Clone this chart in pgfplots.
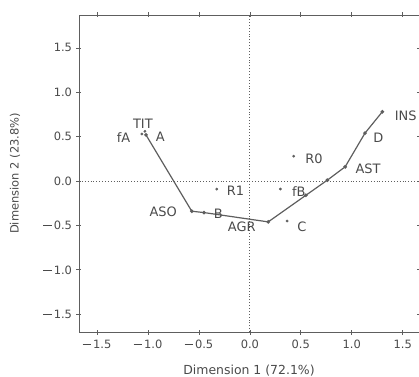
\documentclass[border=0pt]{standalone}
\usepackage{pgfplots}
\pgfplotsset{compat=1.18}
\usepackage{fontspec}
\setmainfont{DejaVu Sans}
\definecolor{txt}{HTML}{4A4A4A}
\definecolor{ln}{HTML}{5E5E5E}
\begin{document}
\begin{tikzpicture}
\begin{axis}[
  scale only axis, width=340bp, height=317bp,
  at={(0,0)}, anchor=south west,
  xmin=-1.677, xmax=1.66, ymin=-1.70, ymax=1.87,
  xtick={-1.5,-1,-0.5,0,0.5,1,1.5},
  ytick={-1.5,-1,-0.5,0,0.5,1,1.5},
  xticklabels={{\rule[0.3em]{0.75em}{0.08em}\,1.5},{\rule[0.3em]{0.75em}{0.08em}\,1.0},{\rule[0.3em]{0.75em}{0.08em}\,0.5},0.0,0.5,1.0,1.5},
  yticklabels={{\rule[0.3em]{0.75em}{0.08em}\,1.5},{\rule[0.3em]{0.75em}{0.08em}\,1.0},{\rule[0.3em]{0.75em}{0.08em}\,0.5},0.0,0.5,1.0,1.5},
  tick align=center, major tick length=5bp,
  axis line style={ln, line width=0.9pt},
  tick style={ln, line width=0.7pt},
  ticklabel style={font=\fontsize{11.5}{13}\selectfont, text=txt},
  xticklabel style={yshift=-2bp},
  yticklabel style={xshift=-1bp},
  xlabel={Dimension 1 (72.1\%)}, ylabel={Dimension 2 (23.8\%)},
  xlabel style={font=\fontsize{12.5}{14}\selectfont, text=txt, at={(axis description cs:0.5,0)}, anchor=center, yshift=-39bp},
  ylabel style={font=\fontsize{11.5}{14}\selectfont, text=txt, at={(axis description cs:0,0.5)}, anchor=center, yshift=64bp},
  clip=false,
]
\draw[ln, dotted, line width=0.9pt] (axis cs:0,-1.70) -- (axis cs:0,1.87);
\draw[ln, dotted, line width=0.9pt] (axis cs:-1.677,0) -- (axis cs:1.66,0);
\addplot[ln, line width=1.2pt, mark=*, mark size=1.2pt, mark options={fill=ln}] coordinates {
  (-1.02,0.52) (-0.57,-0.34) (-0.45,-0.355) (0.18,-0.46) (0.55,-0.16) (0.76,0.01) (0.935,0.16) (1.13,0.54) (1.30,0.78)};
\addplot[only marks, ln, mark=*, mark size=1.2pt, mark options={fill=ln}] coordinates {
  (-1.06,0.53) (-1.03,0.56) (-0.325,-0.09) (0.43,0.28) (0.30,-0.09) (0.365,-0.45)};
\begin{scope}[every node/.style={text=txt, font=\fontsize{13}{15}\selectfont, inner sep=0pt}]
\node at (axis cs:-1.24,0.485) {fA};
\node at (axis cs:-0.88,0.50) {A};
\node at (axis cs:-1.05,0.64) {TIT};
\node at (axis cs:-0.14,-0.11) {R1};
\node at (axis cs:0.63,0.25) {R0};
\node at (axis cs:0.48,-0.12) {fB};
\node at (axis cs:0.51,-0.51) {C};
\node at (axis cs:-0.08,-0.52) {AGR};
\node at (axis cs:-0.31,-0.37) {B};
\node at (axis cs:-0.85,-0.35) {ASO};
\node at (axis cs:1.16,0.135) {AST};
\node at (axis cs:1.26,0.485) {D};
\node[anchor=west] at (axis cs:1.42,0.73) {INS};
\end{scope}
\end{axis}
\pgfresetboundingbox
\path[use as bounding box] (-79bp,-45bp) rectangle (340bp,332bp);
\end{tikzpicture}
\end{document}
